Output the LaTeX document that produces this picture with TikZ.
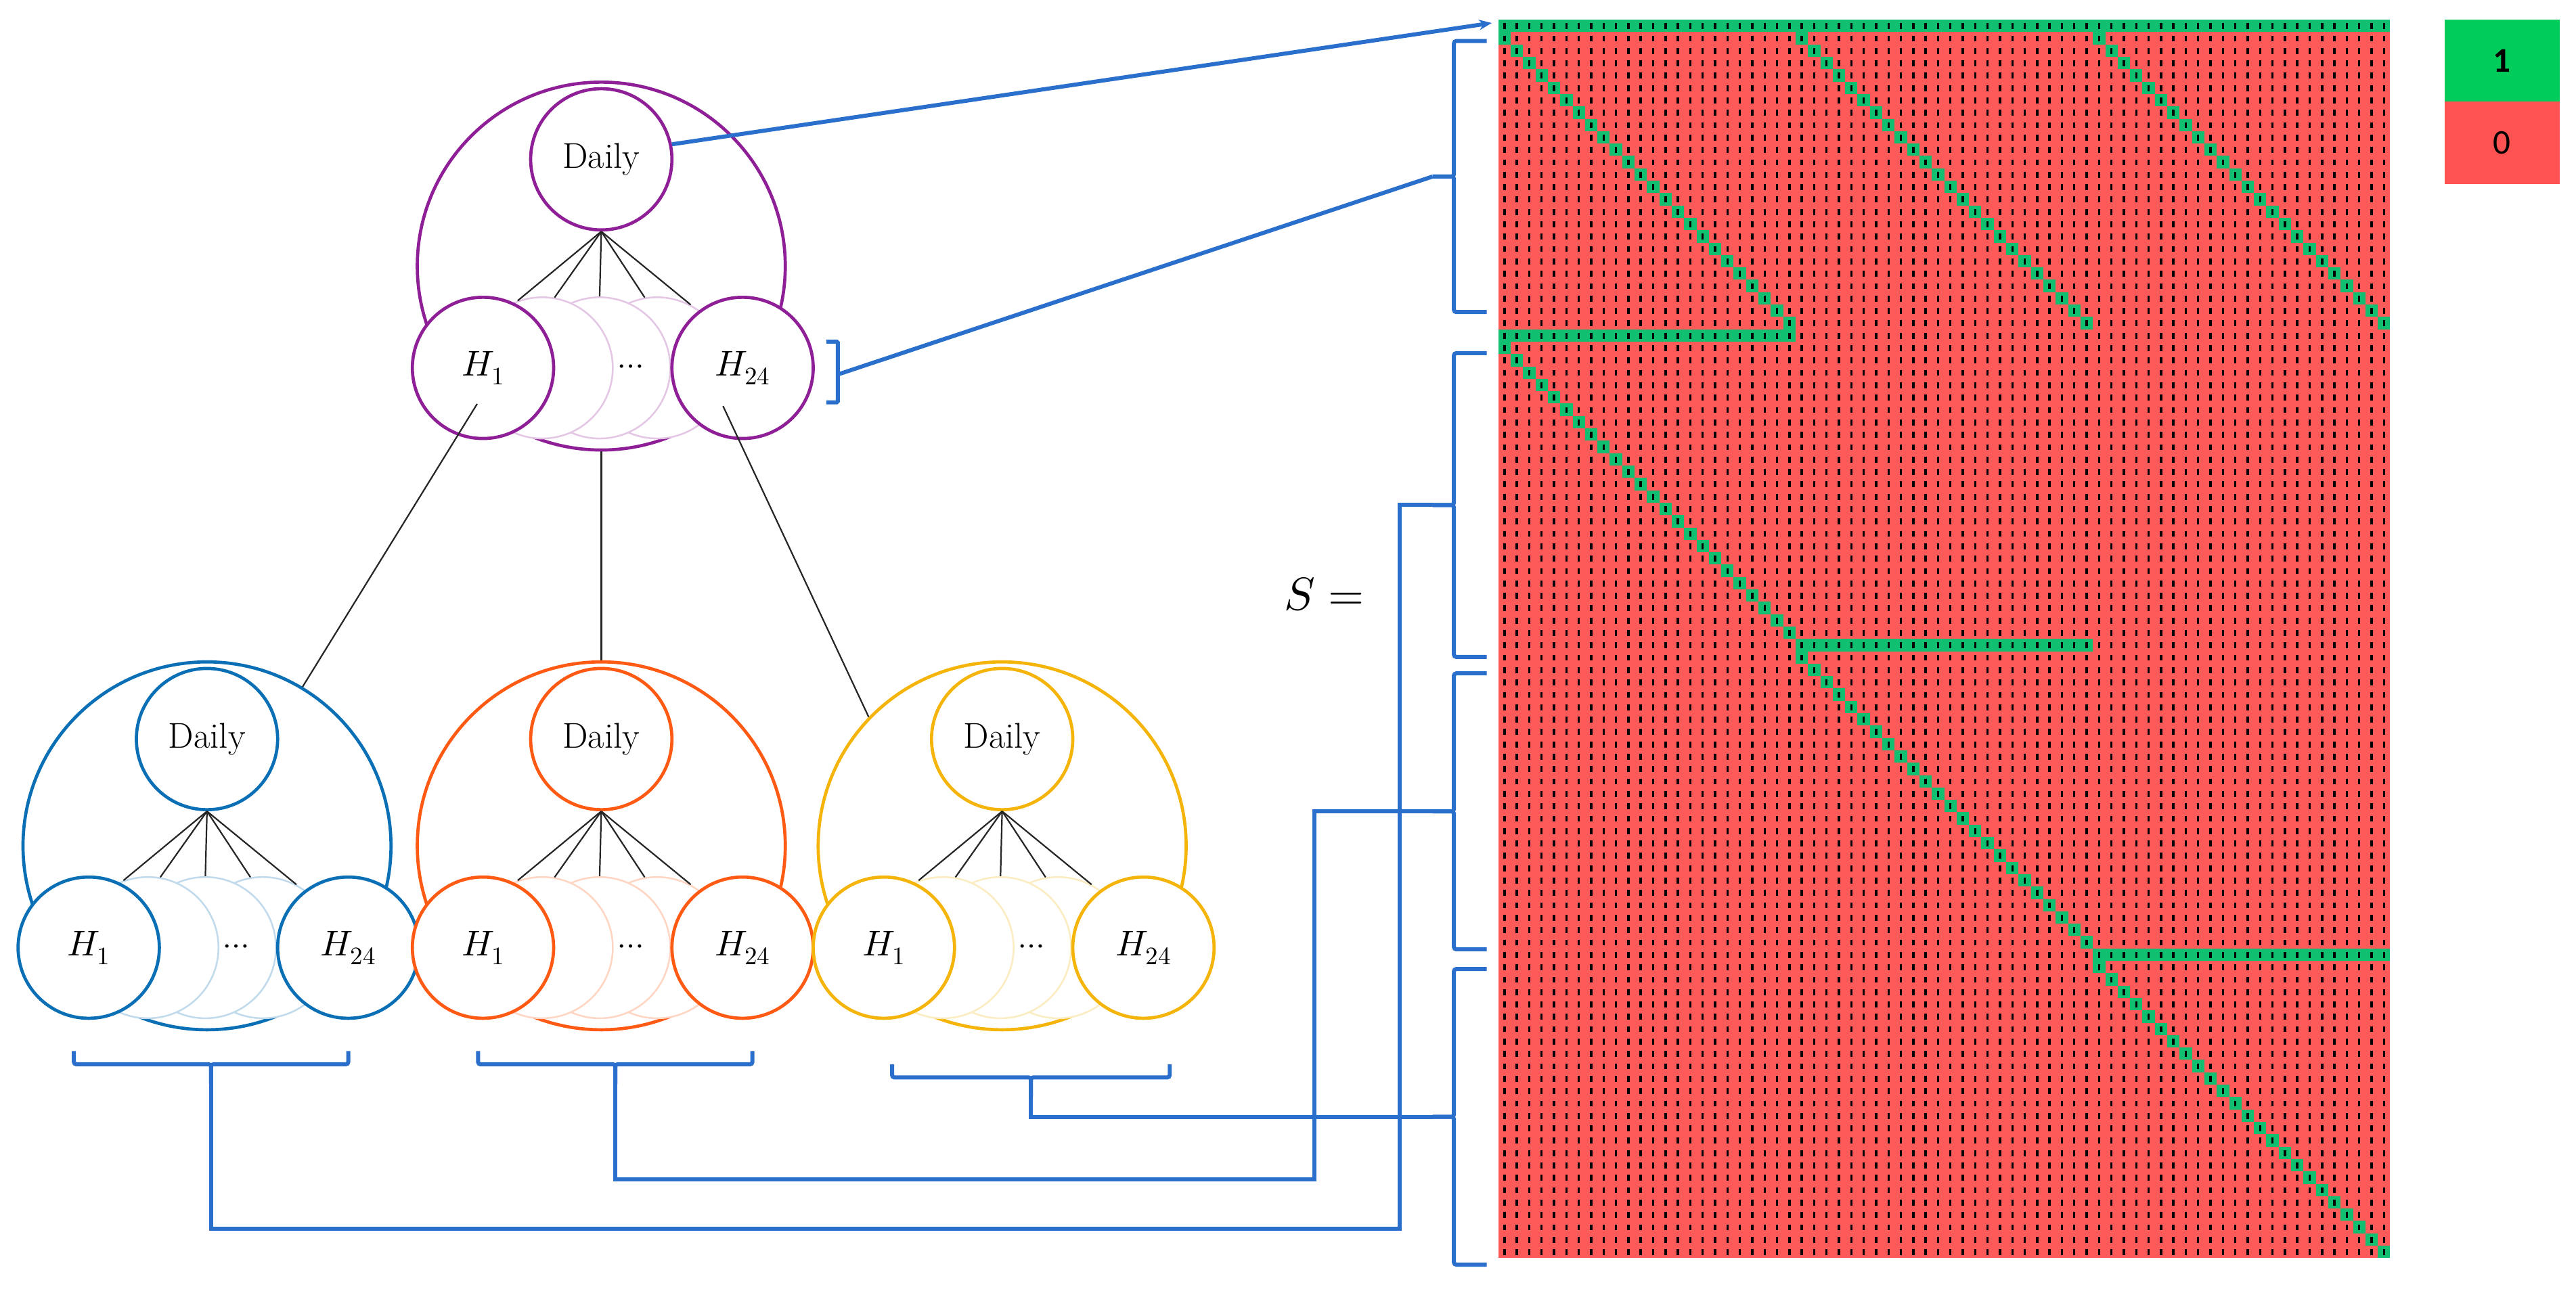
\documentclass[tikz,border=0pt]{standalone}
\usepackage{unicode-math}
\setmathfont{Latin Modern Math}
\newfontfamily\legfont{Carlito}
\usetikzlibrary{arrows.meta,calc}
\definecolor{cpur}{HTML}{8E1F96}
\definecolor{cblu}{HTML}{0A6FB5}
\definecolor{cora}{HTML}{FF5A14}
\definecolor{cyel}{HTML}{F5B40A}
\definecolor{lnk}{HTML}{2A6FCB}
\definecolor{cred}{HTML}{FF5A5A}
\definecolor{cgrn}{HTML}{10C070}
\definecolor{lgrn}{HTML}{00CC5C}
\definecolor{lred}{HTML}{FF5252}
\begin{document}
\begin{tikzpicture}[x=0.1cm,y=-0.1cm,
  outer/.style={circle,draw=#1,line width=5.5pt,minimum size=22.4cm,inner sep=0pt},
  inner/.style={circle,draw=#1,fill=white,line width=5.5pt,minimum size=8.6cm,inner sep=0pt,font=\fontsize{62}{70}\selectfont},
  faded/.style={circle,draw=#1!25,fill=white,line width=3pt,minimum size=8.6cm,inner sep=0pt},
  edge/.style={line width=2.6pt,black!85},
  link/.style={line width=7pt,lnk,rounded corners=4pt}]
\useasboundingbox (0,0) rectangle (1568,786);
\newcommand\hier[4]{% prefix, cx, cy, colour
  \node[outer=#4] (#1out) at (#2,#3) {};
  \node[inner=#4] (#1d) at ($(#2,#3)+(0,-65)$) {Daily};
  \node[faded=#4] (#1f3) at ($(#2,#3)+(34,62)$) {};
  \node[faded=#4] (#1f2) at ($(#2,#3)+(-1,62)$) {};
  \node[faded=#4] (#1f1) at ($(#2,#3)+(-36,62)$) {};
  \foreach \a/\b in {f1/110,f1/80,f2/90,f3/100,f3/62} \draw[edge] (#1d.south) -- (#1\a.\b);
  \node[inner=#4] (#1h1) at ($(#2,#3)+(-72,62)$) {$H_1$};
  \node[inner=#4] (#1h24) at ($(#2,#3)+(86,62)$) {$H_{24}$};
  \node[font=\fontsize{56}{60}\selectfont] (#1dots) at ($(#2,#3)+(18,63)$) {$\cdots$};
}
\hier{T}{366}{162}{cpur}
\hier{B}{126}{515}{cblu}
\hier{O}{366}{515}{cora}
\hier{Y}{610}{515}{cyel}
\draw[edge] (Tout.228) -- (Bout.59);
\draw[edge] (Tout.south) -- (Oout.north);
\draw[edge] (Tout.311) -- (Yout.136);
% matrix
\def\mx{912}\def\my{12}\def\cs{7.54}
\fill[cred] (\mx,\my) rectangle ++(72*\cs,100*\cs);
\fill[cgrn] (\mx,\my) rectangle ++(72*\cs,\cs);
\fill[cgrn] (\mx,\my+25*\cs) rectangle ++(24*\cs,\cs);
\fill[cgrn] (\mx+24*\cs,\my+50*\cs) rectangle ++(24*\cs,\cs);
\fill[cgrn] (\mx+48*\cs,\my+75*\cs) rectangle ++(24*\cs,\cs);
\foreach \k in {0,...,23}{
  \foreach \o in {0,24,48} \fill[cgrn] (\mx+\k*\cs+\o*\cs,\my+\k*\cs+\cs) rectangle ++(\cs,\cs);
  \fill[cgrn] (\mx+\k*\cs,\my+\k*\cs+26*\cs) rectangle ++(\cs,\cs);
  \fill[cgrn] (\mx+\k*\cs+24*\cs,\my+\k*\cs+51*\cs) rectangle ++(\cs,\cs);
  \fill[cgrn] (\mx+\k*\cs+48*\cs,\my+\k*\cs+76*\cs) rectangle ++(\cs,\cs);
}
\draw[black,line width=4pt] \foreach \i in {0,...,71}{ \foreach \j in {0,...,99}{
  (\mx+\i*\cs+0.5*\cs,\my+\j*\cs+0.28*\cs) -- ++(0,0.48*\cs) }};
% matrix side brackets
\foreach \n/\a/\b in {1/25/190,2/215/400,3/410/578,4/590/770}{
  \draw[link] (905,\a) -- (885,\a) -- (885,{(\a+\b)/2}) -- (872,{(\a+\b)/2});
  \draw[link] (872,{(\a+\b)/2}) -- (885,{(\a+\b)/2}) -- (885,\b) -- (905,\b);
  \coordinate (mb\n) at (872,{(\a+\b)/2});
}
\coordinate (mtop) at (908,14);
% H24 bracket
\draw[link,rounded corners=2pt] (503,208) -- (510,208) -- (510,245) -- (503,245);
\coordinate (hb) at (510,228);
\draw[link,-{Stealth[length=22pt,width=18pt]}] (Td.12) -- (mtop);
\draw[link] (hb) -- (mb1);
% bottom brackets
\foreach \n/\a/\b/\y in {B/45/212/648,O/291/458/648,Y/543/712/656}{
  \draw[link] (\a,\y-8) -- (\a,\y) -- ({(\a+\b)/2},\y) -- ({(\a+\b)/2},\y+12);
  \draw[link] ({(\a+\b)/2},\y+12) -- ({(\a+\b)/2},\y) -- (\b,\y) -- (\b,\y-8);
  \coordinate (bb\n) at ({(\a+\b)/2},\y+12);
}
\draw[link,rounded corners=0pt] (bbB) |- (852,748) |- (mb2);
\draw[link,rounded corners=0pt] (bbO) |- (800,718) |- (mb3);
\draw[link,rounded corners=0pt] (bbY) |- (mb4);
% S =
\node[font=\fontsize{80}{90}\selectfont] (S) at (806,362) {$S=$};
% legend
\node[fill=lgrn,minimum width=7cm,minimum height=5cm,inner sep=0pt,font=\legfont\bfseries\fontsize{60}{66}\selectfont] (l1) at (1523,37) {1};
\node[fill=lred,minimum width=7cm,minimum height=5cm,inner sep=0pt,font=\legfont\fontsize{60}{66}\selectfont] (l0) at (1523,87) {0};
\end{tikzpicture}
\end{document}
